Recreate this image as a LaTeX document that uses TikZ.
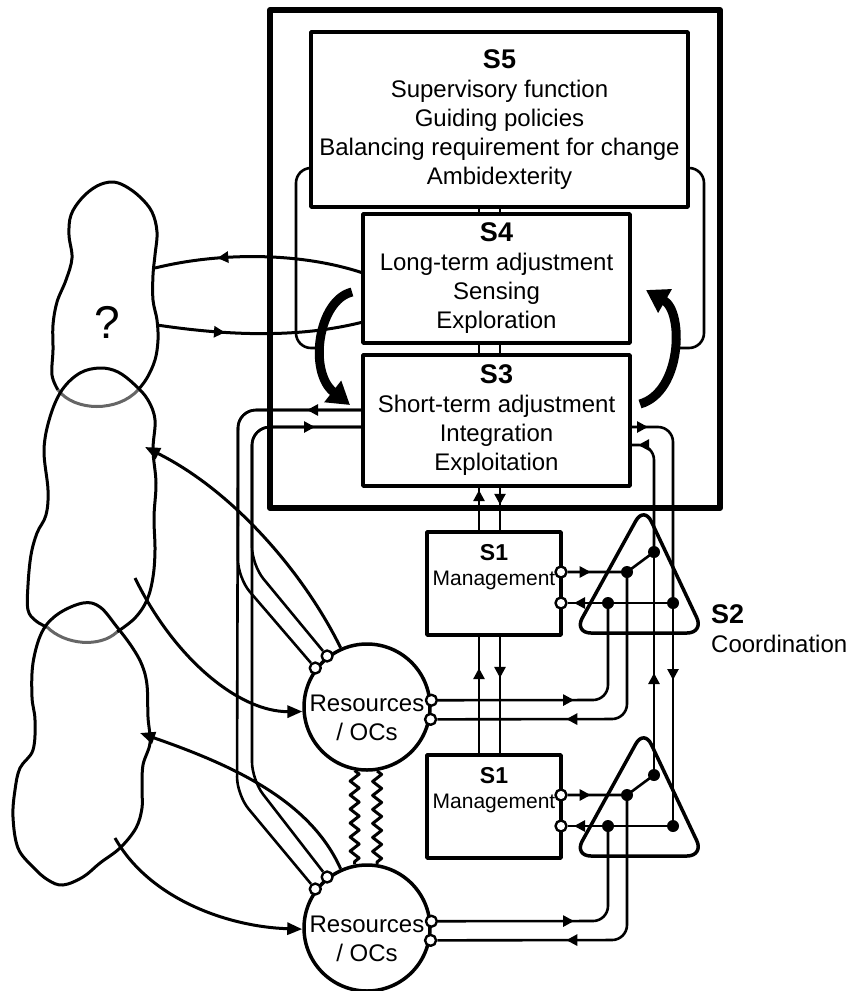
\documentclass[tikz,border=0pt]{standalone}
\usepackage{fontspec}
\setmainfont{Liberation Sans}
\usetikzlibrary{arrows.meta,decorations.markings,decorations.pathmorphing,calc}
\newcommand{\systitle}[1]{{\fontsize{27}{29}\selectfont\bfseries #1}}
\begin{document}
\begin{tikzpicture}[x=1pt,y=-1pt,line join=round,
  sysbox/.style={draw,line width=3.5pt,inner sep=0pt,align=center,font=\fontsize{24}{29}\selectfont},
  opbox/.style={draw,line width=3.8pt,inner sep=0pt,minimum width=134pt,minimum height=103pt},
  opText/.style={inner sep=0pt,align=center,font=\fontsize{21}{25}\selectfont},
  res/.style={circle,draw,line width=3.5pt,minimum size=126pt,inner sep=0pt},
  resText/.style={inner sep=0pt,align=center,font=\fontsize{24}{29}\selectfont},
  port/.style={circle,draw,fill=white,line width=2.4pt,inner sep=0pt,minimum size=11pt},
  jdot/.style={circle,fill,inner sep=0pt,minimum size=12pt},
  wire/.style={line width=2.6pt},
  conn/.style={line width=3pt},
  blob/.style={line width=3pt},
  tri/.style={line width=3.5pt,rounded corners=17pt},
  midarr/.style={postaction={decorate,decoration={markings,mark=at position #1 with {\arrow{Triangle[length=11pt,width=11pt]}}}}},
  revarr/.style={postaction={decorate,decoration={markings,mark=at position #1 with {\arrowreversed{Triangle[length=11pt,width=11pt]}}}}},
  endarr/.style={-{Triangle[length=15pt,width=12pt]}},
  bigarr/.style={line width=9pt,-{Triangle[length=22pt,width=26pt]}},
  zz/.style={line width=3pt,decorate,decoration={zigzag,amplitude=4.5pt,segment length=14pt}},
]
\useasboundingbox (0,0) rectangle (860,991);
% environment blobs
\draw[blob] plot[smooth,tension=0.6] coordinates {(138,390) (147,378) (155,360) (158,340) (157,320) (153,300) (153,275) (155,255) (157,232) (152,212) (140,197) (125,186) (112,182) (97,186) (82,198) (71,215) (69,235) (72,258) (66,280) (57,302) (53,325) (53,350) (52,375) (58,390)};
\draw[blob,black!60] (58,390) .. controls (75,412) and (118,412) .. (138,390);
\draw[blob] plot[smooth,tension=0.6] coordinates {(117,632) (135,618) (147,600) (153,577) (155,550) (154,517) (156,483) (153,450) (155,420) (148,400) (135,385) (118,372) (100,368) (80,373) (62,390) (50,417) (44,450) (48,490) (46,515) (37,533) (31,555) (28,585) (28,610) (36,621) (47,627)};
\draw[blob,black!60] (47,627) .. controls (65,645) and (100,648) .. (117,632);
\draw[blob] plot[smooth cycle,tension=0.6] coordinates {(83,603) (100,607) (117,627) (132,647) (142,665) (147,685) (148,717) (150,743) (143,765) (142,790) (142,808) (136,828) (120,848) (100,863) (83,877) (63,885) (48,880) (33,867) (18,848) (13,817) (15,790) (20,768) (33,750) (35,720) (32,697) (33,663) (42,632) (58,614)};
\node[font=\fontsize{46}{50}\selectfont,inner sep=0pt] (q) at (107,322) {?};
\coordinate (b1o) at (155,268);
\coordinate (b1i) at (157,325);
\coordinate (b2in) at (145,447);
\coordinate (b2out) at (135,578);
\coordinate (b3in) at (140,733);
\coordinate (b3out) at (115,838);
% organisation boundary and systems 3-5
\node[draw,line width=6pt,minimum width=450pt,minimum height=498pt,inner sep=0pt] (org) at (495,259) {};
\node[sysbox,minimum width=377pt,minimum height=175pt] (s5) at (499.5,119.5) {\systitle{S5}\\Supervisory function\\Guiding policies\\Balancing requirement for change\\Ambidexterity};
\node[sysbox,minimum width=267pt,minimum height=129pt] (s4) at (496.5,278.5) {\systitle{S4}\\Long-term adjustment\\Sensing\\Exploration};
\node[sysbox,minimum width=267pt,minimum height=131pt] (s3) at (496.5,420.5) {\systitle{S3}\\Short-term adjustment\\Integration\\Exploitation};
\coordinate (xa) at (479,0);
\coordinate (xb) at (500,0);
\draw[wire] (s5.south -| xa) -- (s4.north -| xa);
\draw[wire] (s5.south -| xb) -- (s4.north -| xb);
\draw[wire] (s4.south -| xa) -- (s3.north -| xa);
\draw[wire] (s4.south -| xb) -- (s3.north -| xb);
% S5 loops
\coordinate (l5a) at (311,168);
\coordinate (l5b) at (688,168);
\coordinate (la1) at (296,168);
\coordinate (la2) at (296,348);
\coordinate (la3) at (322,348);
\coordinate (lb1) at (704,168);
\coordinate (lb2) at (704,348);
\coordinate (lb3) at (673,348);
\draw[wire,rounded corners=15pt] (l5a) -- (la1) -- (la2) -- (la3);
\draw[wire,rounded corners=15pt] (l5b) -- (lb1) -- (lb2) -- (lb3);
% S3-S4 homeostat
\coordinate (h1) at (352,292);
\coordinate (h2) at (350,405);
\coordinate (h3) at (640,404);
\coordinate (h4) at (646,290);
\draw[bigarr] (h1) .. controls (318,300) and (308,372) .. (h2);
\draw[bigarr] (h3) .. controls (682,392) and (684,312) .. (h4);
% side points of S3 and S4
\coordinate (s4la) at (363,273);
\coordinate (s4lb) at (363,322);
\coordinate (s3la) at (363,410);
\coordinate (s3lb) at (363,427);
\coordinate (s3ra) at (630,427);
\coordinate (s3rb) at (630,445);
% S4 <-> environment
\draw[conn,midarr=0.7] (s4la) .. controls (300,252) and (220,252) .. (b1o);
\draw[conn,midarr=0.33] (b1i) .. controls (230,336) and (300,338) .. (s4lb);
% operations
\node[res] (c1) at (367,707) {};
\node[resText] (c1t) at (367,718) {Resources\\/ OCs};
\node[res] (c2) at (367,928) {};
\node[resText] (c2t) at (367,939) {Resources\\/ OCs};
\draw[zz] (c1.-101) -- (c2.101);
\draw[zz] (c1.-81) -- (c2.81);
\node[port] (c1a) at (c1.128) {};
\node[port] (c1b) at (c1.143) {};
\node[port] (c1e) at (c1.6) {};
\node[port] (c1f) at (c1.-11) {};
\node[port] (c2a) at (c2.128) {};
\node[port] (c2b) at (c2.143) {};
\node[port] (c2e) at (c2.6) {};
\node[port] (c2f) at (c2.-11) {};
% resources <-> environment
\draw[conn,endarr] (c1.114) .. controls (305,575) and (235,492) .. (b2in);
\draw[conn,endarr] (b2out) .. controls (175,660) and (240,712) .. (c1.184);
\draw[conn,endarr] (c2.114) .. controls (310,800) and (232,765) .. (b3in);
\draw[conn,endarr] (b3out) .. controls (150,900) and (230,927) .. (c2.181);
% S1 management units
\node[opbox] (m1) at (494,583.5) {};
\node[opText] (m1t) at (494,567) {{\fontsize{23}{25}\selectfont\bfseries S1}\\Management};
\node[opbox] (m2) at (494,806.5) {};
\node[opText] (m2t) at (494,790) {{\fontsize{23}{25}\selectfont\bfseries S1}\\Management};
\node[port] (m1o) at (561,572) {};
\node[port] (m1i) at (561,603) {};
\node[port] (m2o) at (561,795) {};
\node[port] (m2i) at (561,826) {};
% S2 triangles
\draw[tri] (639,633) -- (574,633) -- (644,506) -- (704,633) -- cycle;
\draw[tri] (639,856) -- (574,856) -- (644,729) -- (704,856) -- cycle;
\node[jdot] (d1a) at (627,572) {};
\node[jdot] (d1b) at (654,552) {};
\node[jdot] (d1c) at (608,603) {};
\node[jdot] (d1d) at (673,603) {};
\node[jdot] (d2a) at (627,795) {};
\node[jdot] (d2b) at (654,775) {};
\node[jdot] (d2c) at (608,826) {};
\node[jdot] (d2d) at (673,826) {};
\node[anchor=west,align=left,inner sep=0pt,font=\fontsize{24}{29}\selectfont] (s2l) at (711,629) {\systitle{S2}\\Coordination};
% S1 <-> S3
\draw[wire,midarr=40pt] (m1.north -| xa) -- (s3.south -| xa);
\draw[wire,midarr=17pt] (s3.south -| xb) -- (m1.north -| xb);
\draw[wire,midarr=85pt] (m2.north -| xa) -- (m1.south -| xa);
\draw[wire,midarr=41pt] (m1.south -| xb) -- (m2.north -| xb);
% S3 <-> S2 channel
\coordinate (k1) at (673,427);
\coordinate (k2) at (654,445);
\draw[wire,midarr=18pt,rounded corners=15pt] (s3ra) -- (k1) -- (d1d.center);
\draw[wire,midarr=77pt] (d1d.center) -- (d2d.center);
\draw[wire,midarr=102pt] (d2b.center) -- (d1b.center);
\draw[wire,midarr=0.935,rounded corners=15pt] (d1b.center) -- (k2) -- (s3rb);
% S1 <-> S2
\draw[wire,midarr=23pt] (m1o) -- (d1a.center) -- (d1b.center);
\draw[wire,midarr=99pt] (d1d.center) -- (d1c.center) -- (m1i);
\draw[wire,midarr=23pt] (m2o) -- (d2a.center) -- (d2b.center);
\draw[wire,midarr=99pt] (d2d.center) -- (d2c.center) -- (m2i);
% resources <-> S2
\coordinate (r1) at (608,700);
\coordinate (r2) at (627,719);
\coordinate (r3) at (608,921);
\coordinate (r4) at (627,940);
\draw[wire,midarr=136pt,rounded corners=15pt] (c1e) -- (r1) -- (d1c.center);
\draw[wire,revarr=129pt,rounded corners=15pt] (c1f) -- (r2) -- (d1a.center);
\draw[wire,midarr=136pt,rounded corners=15pt] (c2e) -- (r3) -- (d2c.center);
\draw[wire,revarr=129pt,rounded corners=15pt] (c2f) -- (r4) -- (d2a.center);
% S3 <-> resources
\coordinate (p1) at (238,410);
\coordinate (p2) at (238,578);
\coordinate (p3) at (237,795);
\coordinate (p4) at (252,427);
\coordinate (p5) at (252,565);
\coordinate (p6) at (252,780);
\draw[wire,midarr=56pt,rounded corners=18pt] (s3la) -- (p1) -- (p2) -- (c1b);
\draw[wire,rounded corners=18pt] (s3la) -- (p1) -- (p3) -- (c2b);
\draw[wire,revarr=48pt,rounded corners=18pt] (s3lb) -- (p4) -- (p5) -- (c1a);
\draw[wire,rounded corners=18pt] (s3lb) -- (p4) -- (p6) -- (c2a);
\end{tikzpicture}
\end{document}
